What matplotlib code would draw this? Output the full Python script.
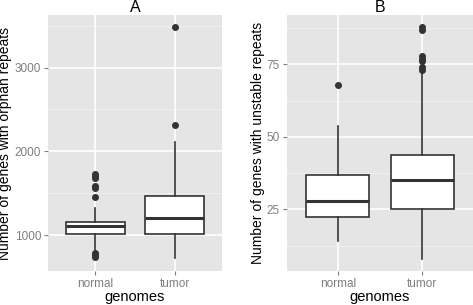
import matplotlib.pyplot as plt

plt.rcParams["font.family"] = ["Liberation Sans", "DejaVu Sans"]

categories = ["normal", "tumor"]

# panel A: number of genes with orphan repeats
a_stats = [
    dict(med=1107, q1=1008, q3=1159, whislo=820, whishi=1319,
         fliers=[1458, 1558, 1580, 1677, 1700, 1729, 781, 760, 741]),
    dict(med=1200, q1=1008, q3=1466, whislo=722, whishi=2108,
         fliers=[2318, 3481]),
]
a_ticks = [1000, 2000, 3000]
a_minor = [1500, 2500, 3500]
a_ylim = (570, 3628)

# panel B: number of genes with unstable repeats
b_stats = [
    dict(med=27.9, q1=22.3, q3=36.9, whislo=14.0, whishi=53.7, fliers=[68.0]),
    dict(med=35.0, q1=25.0, q3=43.7, whislo=8.1, whishi=72.5,
         fliers=[73.2, 74.0, 76.0, 77.0, 78.0, 87.0, 88.0]),
]
b_ticks = [25, 50, 75]
b_minor = [12.5, 37.5, 62.5, 87.5]
b_ylim = (3.8, 92)

fig = plt.figure(figsize=(4.73, 3.05), dpi=100)
W, H = 473, 305
axA = fig.add_axes([48 / W, 34 / H, 174 / W, 256 / H])
axB = fig.add_axes([287 / W, 34 / H, 186 / W, 256 / H])

dark = "#333333"


def draw(ax, stats, ticks, minor, ylim, title, ylabel):
    ax.set_facecolor("#E5E5E5")
    for y in minor:
        ax.axhline(y, color="#F2F2F2", lw=0.6, zorder=0)
    for y in ticks:
        ax.axhline(y, color="white", lw=1.2, zorder=0)
    for x in [1, 2]:
        ax.axvline(x, color="white", lw=1.2, zorder=0)
    ax.bxp(
        stats,
        positions=[1, 2],
        widths=0.75,
        patch_artist=True,
        showcaps=False,
        boxprops=dict(facecolor="white", edgecolor=dark, lw=1.2),
        whiskerprops=dict(color=dark, lw=1.2),
        medianprops=dict(color=dark, lw=2.2),
        flierprops=dict(marker="o", markerfacecolor=dark, markeredgecolor=dark,
                        markersize=4),
        zorder=2,
    )
    ax.set_xlim(0.4, 2.6)
    ax.set_ylim(*ylim)
    ax.set_yticks(ticks)
    ax.set_yticklabels([str(t) for t in ticks])
    ax.set_xticks([1, 2])
    ax.set_xticklabels(categories)
    for s in ax.spines.values():
        s.set_visible(False)
    ax.tick_params(colors="#7F7F7F", labelcolor="#7F7F7F", labelsize=8.5,
                   length=3, width=0.8, pad=2)
    ax.set_title(title, fontsize=11.5, pad=1)
    ax.set_xlabel("genomes", fontsize=10.5, labelpad=0)
    ax.set_ylabel(ylabel, fontsize=10, labelpad=1.5)


draw(axA, a_stats, a_ticks, a_minor, a_ylim, "A",
     "Number of genes with orphan repeats")
draw(axB, b_stats, b_ticks, b_minor, b_ylim, "B",
     "Number of genes with unstable repeats")

fig.savefig("out.png", dpi=100)
